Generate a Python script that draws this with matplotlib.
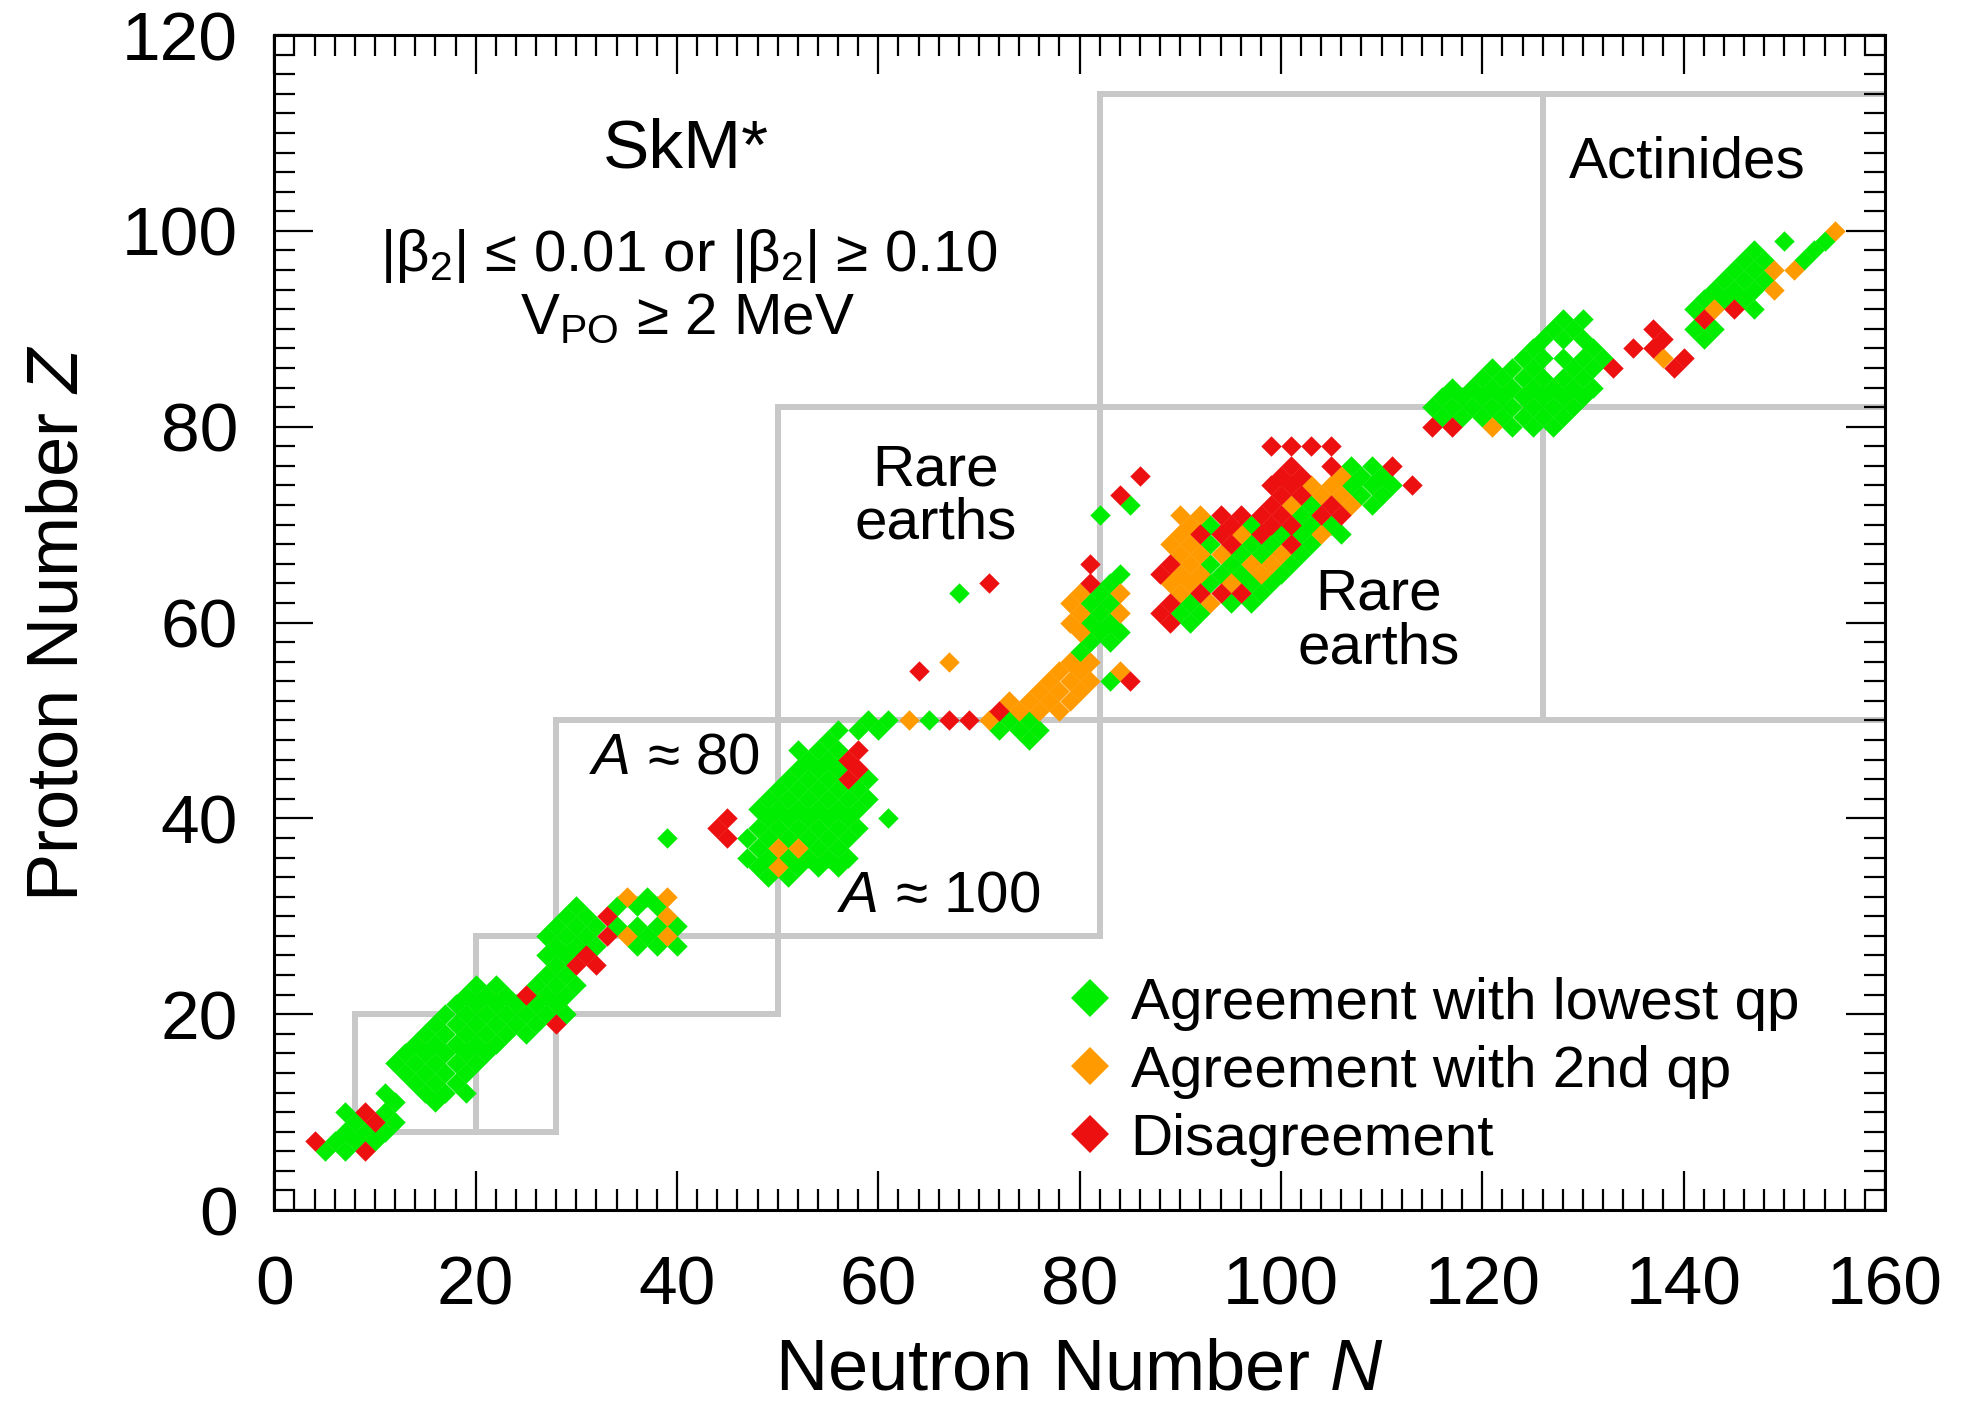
import matplotlib
matplotlib.use("Agg")
import matplotlib.pyplot as plt
from matplotlib.lines import Line2D
from matplotlib.ticker import MultipleLocator

plt.rcParams["font.family"] = ["Liberation Sans", "DejaVu Sans"]
plt.rcParams["mathtext.fontset"] = "custom"
plt.rcParams["mathtext.rm"] = "Liberation Sans"
plt.rcParams["mathtext.it"] = "Liberation Sans:italic"
plt.rcParams["mathtext.sf"] = "Liberation Sans"
plt.rcParams["mathtext.default"] = "regular"

# Odd-A nuclei, grouped by proton number Z -> list of neutron numbers N
lowest_qp = {
    6: [5, 7], 7: [6, 8, 10], 8: [7, 9, 11], 9: [8, 12], 10: [7, 11],
    11: [12, 16], 12: [11, 15, 17, 19], 13: [14, 16, 18], 14: [13, 15, 17, 19],
    15: [12, 14, 16, 18, 20], 16: [13, 15, 17, 19, 21], 17: [14, 16, 18, 20, 22],
    18: [15, 17, 19, 21, 23, 25], 19: [16, 18, 20, 22, 24, 26],
    20: [17, 19, 21, 23, 25, 27, 29], 21: [18, 20, 22, 24, 26, 28],
    22: [19, 21, 23, 27, 29], 23: [20, 22, 26, 28, 30], 24: [27, 29], 25: [28],
    26: [27, 29], 27: [28, 30, 32, 36, 38, 40], 28: [27, 29, 31, 37],
    29: [28, 30, 32, 34, 36, 38, 40], 30: [29, 31], 31: [30, 34, 36, 38], 32: [37],
    34: [49, 51], 35: [48, 52, 54, 56], 36: [47, 49, 51, 53, 55, 57],
    37: [48, 54, 56], 38: [39, 47, 49, 51, 53, 55, 57],
    39: [48, 50, 52, 54, 56, 58], 40: [49, 51, 53, 55, 57, 61],
    41: [48, 50, 52, 54, 56, 58], 42: [49, 51, 53, 55, 57, 59],
    43: [50, 52, 54, 56, 58], 44: [51, 53, 55, 59], 45: [52, 54, 56],
    46: [53, 55], 47: [52, 54, 56], 48: [55, 75], 49: [56, 58, 60, 72, 74, 76],
    50: [59, 61, 65, 73, 75], 54: [83], 57: [80], 58: [81, 83], 59: [82, 84],
    60: [81, 83, 91], 61: [82, 90, 92], 62: [81, 83, 91, 95, 97],
    63: [68, 82, 98], 64: [83, 93, 97, 99], 65: [84, 94, 96, 100],
    66: [93, 95, 101], 67: [96, 98, 102], 68: [93, 97, 99, 103],
    69: [100, 102, 106], 70: [93, 97, 103, 105], 71: [82, 102],
    72: [85, 103, 109], 73: [108, 110], 74: [107, 109, 111], 75: [108, 110],
    76: [107, 109], 80: [123, 125, 127],
    81: [116, 118, 120, 122, 124, 126, 128],
    82: [115, 117, 119, 121, 123, 125, 127, 129],
    83: [116, 118, 120, 122, 124, 126, 128, 130],
    84: [117, 119, 121, 123, 125, 127, 129, 131],
    85: [120, 122, 124, 126, 128, 130], 86: [121, 123, 125, 129, 131],
    87: [124, 126, 128, 130, 132], 88: [125, 131], 89: [126, 128, 130, 142],
    90: [127, 129, 141, 143], 91: [128, 130], 92: [141, 147],
    93: [142, 144, 146], 94: [143, 145, 147], 95: [144, 146, 148],
    96: [145, 147], 97: [146, 148, 152], 98: [147, 153], 99: [150, 154],
}

second_qp = {
    28: [35, 39], 30: [39], 32: [35, 39], 35: [50], 37: [50, 52],
    50: [63, 71], 51: [74, 76, 78], 52: [73, 75, 77, 79], 53: [76, 78, 80],
    54: [77, 79, 81], 55: [78, 80, 84], 56: [67, 79, 81], 59: [80], 60: [79],
    61: [80, 84], 62: [79, 93], 63: [80, 84, 90], 64: [89, 91, 95],
    65: [90, 92, 98], 66: [91, 97, 99], 67: [90, 92, 94, 100], 68: [89, 91],
    69: [90, 96, 104], 70: [91], 71: [90, 92], 72: [101, 107], 73: [104, 106],
    74: [103, 105], 75: [106], 80: [121], 87: [138], 92: [143], 94: [149],
    96: [149, 151], 100: [155],
}

disagreement = {
    6: [9], 7: [4], 9: [10], 10: [9], 19: [28], 22: [25], 25: [30, 32],
    26: [31], 28: [33], 30: [33], 38: [45], 39: [44], 40: [45], 44: [57],
    45: [58], 46: [57], 47: [58], 50: [67, 69], 51: [72], 54: [85], 55: [64],
    60: [89], 61: [88], 62: [89], 63: [92, 94, 96], 64: [71, 81], 65: [88],
    66: [81, 89], 68: [95, 101], 69: [92, 94, 98], 70: [95, 99, 101],
    71: [94, 96, 98, 100, 104, 106], 72: [99, 105], 73: [84, 100, 102],
    74: [99, 101, 113], 75: [86, 100, 102], 76: [101, 105, 111],
    78: [99, 101, 103, 105], 80: [115, 117], 86: [133, 139], 87: [140],
    88: [135, 137], 89: [138], 90: [137], 91: [142], 92: [145],
}

# Magic-number shell boundaries: (N0, Z0, N1, Z1)
shell_lines = [
    (8, 8, 8, 20), (8, 8, 28, 8), (20, 8, 20, 28), (28, 8, 28, 50),
    (8, 20, 50, 20), (20, 28, 82, 28), (28, 50, 160, 50), (50, 20, 50, 82),
    (82, 28, 82, 114), (50, 82, 160, 82), (82, 114, 160, 114), (126, 50, 126, 114),
]

labels = ["Agreement with lowest qp", "Agreement with 2nd qp", "Disagreement"]
colors = ["#00ec00", "#ff9a00", "#ec1010"]


def flatten(rows):
    ns, zs = [], []
    for z, n_list in rows.items():
        for n in n_list:
            ns.append(n)
            zs.append(z)
    return ns, zs


fig = plt.figure(figsize=(19.61, 14.06), dpi=100)
ax = fig.add_axes([0.1399, 0.1394, 0.8213, 0.8357])

for n0, z0, n1, z1 in shell_lines:
    ax.plot([n0, n1], [z0, z1], color="#c8c8c8", lw=4.3, solid_capstyle="projecting", zorder=1)

for rows, col in zip([lowest_qp, second_qp, disagreement], colors):
    ns, zs = flatten(rows)
    ax.scatter(ns, zs, marker="D", s=108, color=col, linewidths=0, zorder=3)

ax.set_xlim(0, 160)
ax.set_ylim(0, 120)
ax.xaxis.set_major_locator(MultipleLocator(20))
ax.yaxis.set_major_locator(MultipleLocator(20))
ax.xaxis.set_minor_locator(MultipleLocator(2))
ax.yaxis.set_minor_locator(MultipleLocator(2))
ax.tick_params(which="both", direction="in", top=True, right=True, width=1.6, colors="black")
ax.tick_params(which="major", length=28, labelsize=50)
ax.tick_params(axis="x", which="major", pad=32)
ax.tick_params(axis="y", which="major", pad=26)
ax.tick_params(which="minor", length=15)
for sp in ax.spines.values():
    sp.set_linewidth(2.2)

ax.set_xlabel("Neutron Number $\\mathit{N}$", fontsize=52, labelpad=14)
ax.set_ylabel("Proton Number $\\mathit{Z}$", fontsize=52, labelpad=21)

txt = dict(ha="center", va="center", fontsize=42, zorder=4)
ax.text(40.9, 108.3, "SkM*", **{**txt, "fontsize": 50})
ax.text(41.2, 97.4, "$|\\beta_2|$ ≤ 0.01 or $|\\beta_2|$ ≥ 0.10", **txt)
ax.text(41.0, 91.0, "$V_{PO}$ ≥ 2 MeV", **txt)
ax.text(140.4, 107.0, "Actinides", **txt)
ax.text(65.7, 72.8, "Rare\nearths", linespacing=0.98, **txt)
ax.text(109.7, 60.1, "Rare\nearths", linespacing=1.02, **txt)
ax.text(39.7, 46.1, "$\\mathit{A}$ ≈ 80", **txt)
ax.text(66.0, 32.0, "$\\mathit{A}$ ≈ 100", **txt)

handles = [Line2D([], [], marker="D", ls="", color=c, markersize=19, markeredgewidth=0) for c in colors]
ax.legend(handles, labels, loc="upper left", bbox_to_anchor=(0.4919, 0.1985),
          frameon=False, fontsize=42, borderpad=0, borderaxespad=0,
          handlelength=0.8, handletextpad=0.3, labelspacing=0.24)

fig.savefig("out.png", dpi=100)
